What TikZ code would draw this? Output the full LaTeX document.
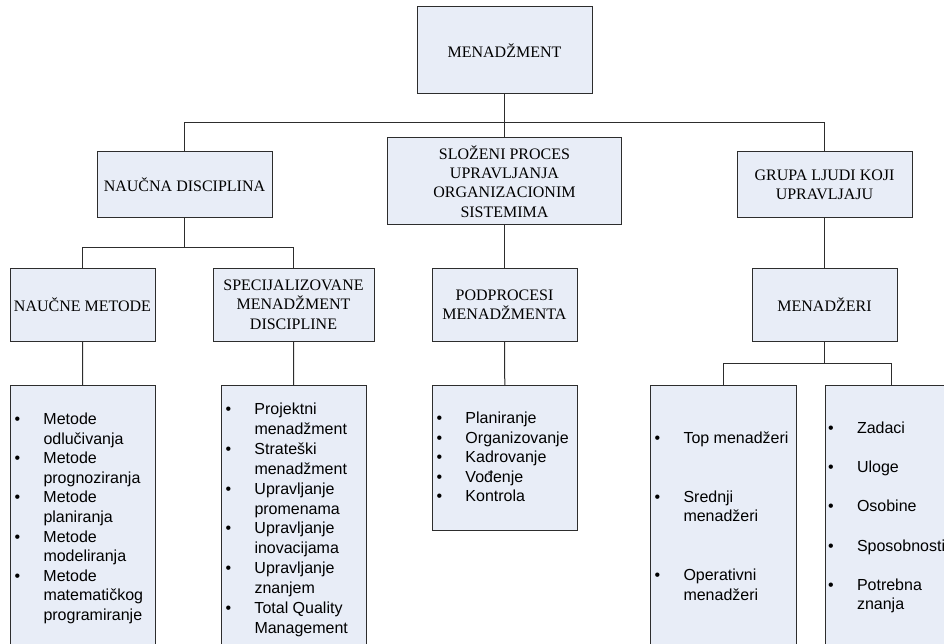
\documentclass[tikz,border=0pt]{standalone}
\usepackage{fontspec}
\setmainfont{Liberation Serif}
\newfontfamily\listfont{Liberation Sans}
\usepackage{tikz}

\definecolor{boxfill}{RGB}{232,237,247}
\definecolor{linegray}{RGB}{45,45,45}

% bullet line and continuation line of a list
\newlength{\bulind}
\setlength{\bulind}{4pt}
\newcommand{\bul}[1]{\hspace*{\bulind}\makebox[29pt][l]{\textbullet}#1}
\newcommand{\cont}[1]{\hspace*{\bulind}\hspace*{29pt}#1}
% height, width, first baseline, lines
\newcommand{\listtext}[4]{\parbox[c][#1][t]{#2}{\rule{0pt}{#3}#4}}

\begin{document}
\begin{tikzpicture}[x=1pt, y=-1pt,
    box/.style={draw=linegray, line width=1pt, fill=boxfill, inner sep=0pt,
        align=center, font=\fontsize{16}{19.4}\selectfont},
    listbox/.style={draw=linegray, line width=1pt, fill=boxfill, inner sep=0pt,
        anchor=north west, font=\listfont\fontsize{16}{19.6}\selectfont},
    conn/.style={draw=linegray, line width=1pt}]
    \useasboundingbox (0,0) rectangle (944,644);

    \node[box, minimum width=175pt, minimum height=87pt] (MEN) at (504.5,50.5) {MENADŽMENT};
    \node[box, minimum width=175pt, minimum height=66pt] (ND) at (184.5,185) {NAUČNA DISCIPLINA};
    \node[box, minimum width=234pt, minimum height=87pt] (SP) at (504.5,181.5)
        {SLOŽENI PROCES\\UPRAVLJANJA\\ORGANIZACIONIM\\SISTEMIMA};
    \node[box, minimum width=175pt, minimum height=66pt] (GL) at (824.5,185)
        {GRUPA LJUDI KOJI\\UPRAVLJAJU};
    \node[box, minimum width=145pt, minimum height=73pt] (NM) at (82.5,304.5) {NAUČNE METODE};
    \node[box, minimum width=161pt, minimum height=73pt] (SD) at (293.5,304.5)
        {SPECIJALIZOVANE\\MENADŽMENT\\DISCIPLINE};
    \node[box, minimum width=145pt, minimum height=73pt] (PM) at (504.5,304.5)
        {PODPROCESI\\MENADŽMENTA};
    \node[box, minimum width=145pt, minimum height=73pt] (MZ) at (824.5,304.5) {MENADŽERI};

    \node[listbox] (L1) at (10,385) {\listtext{290pt}{145pt}{39pt}{%
        \bul{Metode}\\ \cont{odlučivanja}\\
        \bul{Metode}\\ \cont{prognoziranja}\\
        \bul{Metode}\\ \cont{planiranja}\\
        \bul{Metode}\\ \cont{modeliranja}\\
        \bul{Metode}\\ \cont{matematičkog}\\ \cont{programiranje}}};
    \node[listbox] (L2) at (221,385) {\fontsize{16}{19.9}\selectfont
        \listtext{290pt}{145pt}{29pt}{%
        \bul{Projektni}\\ \cont{menadžment}\\
        \bul{Strateški}\\ \cont{menadžment}\\
        \bul{Upravljanje}\\ \cont{promenama}\\
        \bul{Upravljanje}\\ \cont{inovacijama}\\
        \bul{Upravljanje}\\ \cont{znanjem}\\
        \bul{Total Quality}\\ \cont{Management}}};
    \node[listbox] (L3) at (432,385) {\listtext{145pt}{145pt}{38pt}{%
        \bul{Planiranje}\\ \bul{Organizovanje}\\ \bul{Kadrovanje}\\
        \bul{Vođenje}\\ \bul{Kontrola}}};
    \node[listbox] (L4) at (650,385) {\listtext{290pt}{146pt}{58pt}{%
        \bul{Top menadžeri}\\[39.2pt]
        \bul{Srednji}\\ \cont{menadžeri}\\[39.2pt]
        \bul{Operativni}\\ \cont{menadžeri}}};
    \node[listbox] (L5) at (825,385) {\setlength{\bulind}{2.5pt}%
        \listtext{290pt}{132pt}{48pt}{%
        \bul{Zadaci}\\[19.6pt] \bul{Uloge}\\[19.6pt] \bul{Osobine}\\[19.6pt]
        \bul{Sposobnosti}\\[19.6pt] \bul{Potrebna}\\ \cont{znanja}}};

    % branch points
    \coordinate (b1) at (504.5,123);
    \coordinate (b2) at (184.5,247);
    \coordinate (b3) at (824.5,363);

    \draw[conn] (MEN) -- (b1);
    \draw[conn] (b1) -| (ND);
    \draw[conn] (b1) -- (SP);
    \draw[conn] (b1) -| (GL);
    \draw[conn] (ND) -- (b2);
    \draw[conn] (b2) -| (NM);
    \draw[conn] (b2) -| (SD);
    \draw[conn] (SP) -- (PM);
    \draw[conn] (GL) -- (MZ);
    \draw[conn] (NM) -- (L1);
    \draw[conn] (SD) -- (L2);
    \draw[conn] (PM) -- (L3);
    \draw[conn] (MZ) -- (b3);
    \draw[conn] (b3) -| (L4);
    \draw[conn] (b3) -| (L5);
\end{tikzpicture}
\end{document}
